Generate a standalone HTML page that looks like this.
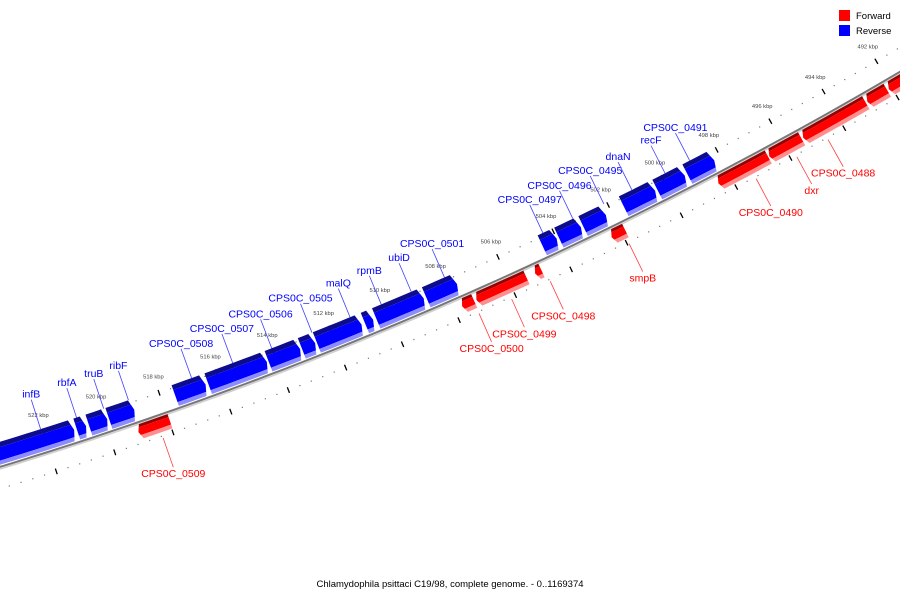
<!DOCTYPE html>
<html><head><meta charset="utf-8"><style>
html,body{margin:0;padding:0;background:#fff;}
svg{display:block;font-family:"Liberation Sans","DejaVu Sans",sans-serif;}
</style></head><body>
<svg id="chart" width="900" height="600" viewBox="0 0 900 600" xmlns="http://www.w3.org/2000/svg">
<rect x="0" y="0" width="900" height="600" fill="#fff"/>
<g id="tracks"></g>
<g id="axis"></g>
<g id="features"></g>
<g id="labels"></g>
<g>
<rect x="839" y="10" width="11" height="11" fill="#ff0000"/>
<text x="856" y="19" font-size="9.5" fill="#000">Forward</text>
<rect x="839" y="25" width="11" height="11" fill="#0000ff"/>
<text x="856" y="34" font-size="9.5" fill="#000">Reverse</text>
</g>
<text x="450" y="587" font-size="9.5" text-anchor="middle" fill="#000">Chlamydophila psittaci C19/98, complete genome. - 0..1169374</text>
</svg>
<script>
// feature data (kbp)
const geneNames = ["infB","rbfA","truB","ribF","CPS0C_0508","CPS0C_0507","CPS0C_0506","CPS0C_0505","malQ","rpmB","ubiD","CPS0C_0501","CPS0C_0497","CPS0C_0496","CPS0C_0495","dnaN","recF","CPS0C_0491",
  "CPS0C_0509","CPS0C_0500","CPS0C_0499","CPS0C_0498","smpB","CPS0C_0490","dxr","CPS0C_0488","",""];
const geneHigh = [525.0,520.97,520.55,519.86,517.56,516.41,514.30,513.13,512.60,510.90,510.50,508.72,504.55,503.95,503.07,501.59,500.36,499.25,
  519.09,507.76,507.25,505.15,502.39,498.49,496.61,495.35,492.95,492.14];
const geneLow = [521.00,520.59,519.86,518.92,516.44,514.30,513.13,512.60,510.96,510.55,508.75,507.56,503.97,503.09,502.18,500.38,499.29,498.20,
  517.94,507.27,505.40,504.86,501.83,496.59,495.35,492.95,492.14,489.5];
const geneStrand = [-1,-1,-1,-1,-1,-1,-1,-1,-1,-1,-1,-1,-1,-1,-1,-1,-1,-1,
  1,1,1,1,1,1,1,1,1,1];
const labelKbp = [522.07,520.83,519.89,519.03,516.83,515.39,514.02,512.60,511.25,510.14,509.07,507.88,504.33,503.24,502.11,501.08,499.86,498.95,
  518.36,507.32,506.16,504.78,501.94,497.30,495.80,494.64,null,null];
// ruler data
const tickLabels = [522,520,518,516,514,512,510,508,506,504,502,500,498,496,494,492];
const tickStart = 526, tickEnd = 488, minorStep = 0.4;

const NS="http://www.w3.org/2000/svg";
const H=-1206, K=-3503, R_AXIS=4149;
function ang(kbp){return (72.38-(522-kbp)*0.4225)*Math.PI/180;}
function P(kbp,r){const t=ang(kbp);return [H+r*Math.cos(t),K+r*Math.sin(t)];}
function f(n){return n.toFixed(2);}
function mk(tag,attrs,parent){const e=document.createElementNS(NS,tag);for(const k in attrs)e.setAttribute(k,attrs[k]);parent.appendChild(e);return e;}

// axis
const axisG=document.getElementById('axis');
function arcPath(r,a,b){let d='';const n=80;for(let i=0;i<=n;i++){const k=a+(b-a)*i/n;const p=P(k,r);d+=(i?'L':'M')+f(p[0])+' '+f(p[1]);}return d;}
const sh=mk('path',{d:arcPath(R_AXIS+2,527,488),stroke:'#cfcfcf','stroke-width':'1.6',fill:'none'},axisG);


const ax=mk('path',{d:arcPath(R_AXIS,527,488),stroke:'#777','stroke-width':'2',fill:'none'},axisG);



// features
const featG=document.getElementById('features');
const blueBands=[[4125,4130,'#0c0c8c'],[4130,4143,'#0000ff'],[4143,4147,'#8c8cff']];
const redBands=[[4151,4154,'#990000'],[4154,4162,'#ff0000'],[4162,4166,'#ff8f8f']];
function bandPoly(s,e,r1,r2,rm,hw){
  const head=0.1, dir=Math.sign(e-s);
  const endK=r=>e-dir*head*Math.abs(r-rm)/hw;
  const pts=[];
  const e1=endK(r1), n=Math.max(2,Math.ceil(Math.abs(e1-s)/0.3));
  for(let i=0;i<=n;i++){pts.push(P(s+(e1-s)*i/n,r1));}
  if(r1<rm&&rm<r2)pts.push(P(endK(rm),rm));
  const e2=endK(r2), n2=Math.max(2,Math.ceil(Math.abs(e2-s)/0.3));
  for(let i=0;i<=n2;i++){pts.push(P(e2+(s-e2)*i/n2,r2));}
  return pts.map(p=>f(p[0])+','+f(p[1])).join(' ');
}
for(let i=0;i<geneNames.length;i++){
  const g=mk('g',{},featG);
  
  
  const fwd=geneStrand[i]>0;
  const s=fwd?geneLow[i]+0.03:geneHigh[i]-0.03;
  const e=fwd?geneHigh[i]-0.03:geneLow[i]+0.03;
  const bands=fwd?redBands:blueBands;
  const rTop=bands[0][0], rBot=bands[bands.length-1][1];
  const rm=(rTop+rBot)/2, hw=(rBot-rTop)/2;
  bands.forEach(b=>{
    const pg=mk('polygon',{points:bandPoly(s,e,b[0],b[1],rm,hw),fill:b[2]},g);
    
    
  });
}

// ruler tracks
const trG=document.getElementById('tracks');
const nSteps=Math.round((tickStart-tickEnd)/minorStep);
[[4128,'outer'],[4170,'inner']].forEach(([r,nm])=>{
  for(let i=0;i<=nSteps;i++){
    const k=tickStart-i*minorStep;
    const major=Math.abs(((k-522)/2)-Math.round((k-522)/2))<1e-6;
    if(major){
      const a=P(k,r-3),b=P(k,r+3);
      const l=mk('line',{x1:f(a[0]),y1:f(a[1]),x2:f(b[0]),y2:f(b[1]),stroke:'#000','stroke-width':'1.3'},trG);
      
      
    }else{
      const p=P(k,r);
      const c=mk('rect',{x:f(p[0]-0.6),y:f(p[1]-0.6),width:'1.2',height:'1.2',fill:'#777'},trG);
      
      
    }
  }
});
tickLabels.forEach(v=>{
  const p=P(v,4111);
  const t=mk('text',{x:f(p[0]),y:f(p[1]+2),'font-size':'5.8','text-anchor':'middle',fill:'#444'},trG);
  t.textContent=v+' kbp';
  
  
});

// labels
const lbG=document.getElementById('labels');
for(let i=0;i<geneNames.length;i++){
  if(labelKbp[i]===null)continue;
  const fwd=geneStrand[i]>0;
  const col=fwd?'#ff0000':'#0000ff';
  const lcol=fwd?'#ff4040':'#4040ff';
  const a=fwd?P(labelKbp[i],4172):P(labelKbp[i],4125);
  const b=fwd?P(labelKbp[i],4203):P(labelKbp[i],4094);
  const l=mk('line',{x1:f(a[0]),y1:f(a[1]),x2:f(b[0]),y2:f(b[1]),stroke:lcol,'stroke-width':'0.8'},lbG);
  
  
  const ty=fwd?b[1]+10:b[1]-2;
  const t=mk('text',{x:f(b[0]),y:f(ty),'font-size':'10.5','text-anchor':'middle',fill:col},lbG);
  t.textContent=geneNames[i];
  
  
}
</script>
</body></html>
